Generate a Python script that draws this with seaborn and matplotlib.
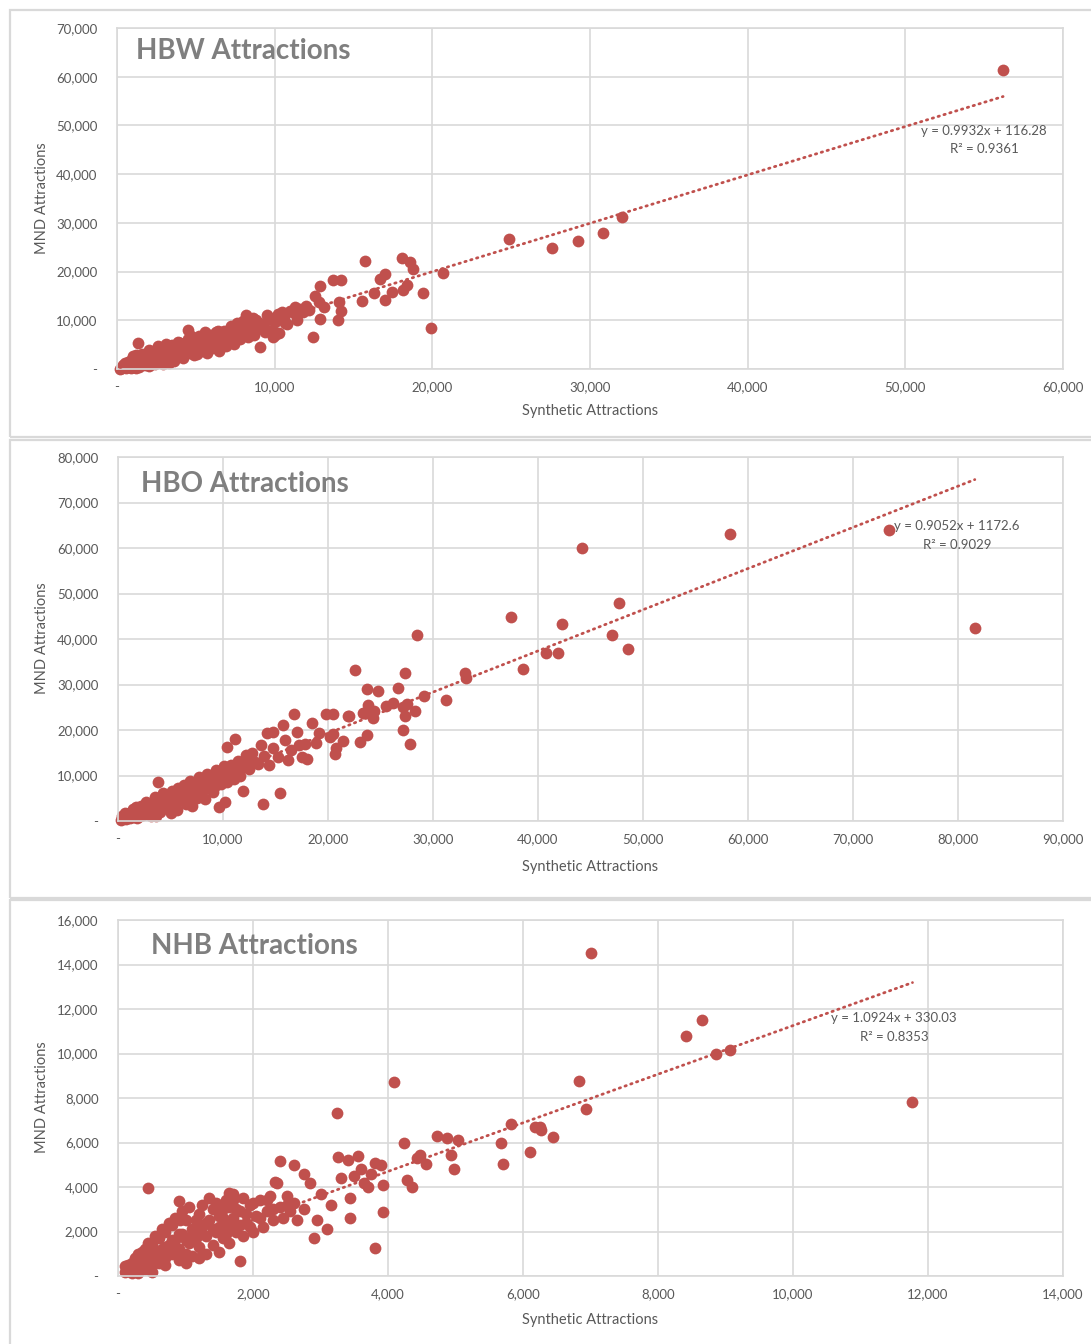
import numpy as np
import pandas as pd
import matplotlib
matplotlib.use("Agg")
import matplotlib.pyplot as plt
from matplotlib.patches import Rectangle
from matplotlib.ticker import FuncFormatter, MultipleLocator
import seaborn as sns

# ---------------- DATA (values in thousands) ----------------
hbw_x_k = [0.2, 0.3, 0.4, 0.5, 0.5, 0.6, 0.7, 0.8, 0.9, 1.0, 1.0, 1.0, 1.1, 1.2, 1.2, 1.3, 1.35, 1.4, 1.5, 1.6,
           1.6, 1.7, 1.8, 1.9, 2.0, 2.0, 2.1, 2.2, 2.3, 2.4, 2.4, 2.5, 2.6, 2.7, 2.8, 2.9, 2.9, 3.0, 3.1, 3.2,
           3.3, 3.3, 3.4, 3.5, 3.6, 3.7, 3.8, 3.9, 4.0, 4.1, 4.2, 4.3, 4.4, 4.5, 4.5, 4.6, 4.7, 4.8, 4.9, 5.0,
           5.1, 5.2, 5.3, 5.4, 5.5, 5.6, 5.7, 5.8, 5.9, 6.0, 6.1, 6.2, 6.3, 6.4, 6.5, 6.6, 6.7, 6.8, 6.9, 7.0,
           7.1, 7.2, 7.3, 7.4, 7.5, 7.6, 7.7, 7.8, 7.9, 8.0, 8.1, 8.2, 8.3, 8.4, 8.5, 8.6, 8.7, 8.8, 8.9, 9.1,
           9.2, 9.4, 9.6, 9.8, 9.9, 10.0, 10.2, 10.3, 10.45, 10.6, 10.65, 10.8, 11.0, 11.2, 11.3, 11.4, 11.6, 11.8, 12.0, 12.2,
           12.4, 12.55, 12.8, 12.9, 12.9, 13.1, 13.7, 14.0, 14.1, 14.2, 14.2, 15.55, 15.7, 16.3, 16.7, 17.0, 17.0, 17.45, 18.1, 18.15,
           18.4, 18.6, 18.75, 19.4, 19.9, 20.65, 24.88, 27.6, 29.25, 30.8, 32.0, 56.2,
           0.3, 0.6, 0.8, 1.1, 1.4, 1.7, 1.9, 2.2, 2.5, 2.8, 3.0, 3.2, 3.4, 3.6, 3.9, 4.0, 4.2, 4.5, 4.7, 4.9,
           5.1, 5.3, 5.5, 5.6, 5.8, 6.0, 6.2, 6.4, 6.6, 6.8, 7.0, 7.2, 7.4, 7.6, 7.8, 8.0, 8.2, 8.6, 9.0, 9.3,
           9.5, 10.0, 10.1, 1.2, 2.0, 2.6, 3.1]
hbw_y_k = [0.1, 0.2, 0.9, 0.6, 1.2, 0.3, 1.5, 0.9, 0.2, 0.5, 1.3, 2.6, 2.2, 0.8, 0.2, 1.6, 5.3, 0.4, 1.1, 2.0,
           3.0, 1.4, 0.9, 2.4, 1.7, 0.7, 2.9, 1.2, 2.2, 3.3, 1.0, 1.8, 2.7, 3.8, 1.5, 2.4, 1.1, 3.2, 4.3, 2.0,
           2.9, 1.3, 3.7, 4.9, 1.6, 2.6, 3.4, 4.2, 5.4, 3.0, 2.3, 3.9, 4.8, 6.2, 8.0, 3.3, 4.4, 5.3, 2.8, 4.0,
           5.8, 6.7, 3.6, 4.7, 5.5, 6.3, 3.2, 5.0, 7.0, 4.3, 5.9, 6.6, 7.6, 5.2, 3.6, 6.2, 7.2, 5.6, 4.7, 6.8,
           8.1, 6.0, 7.4, 5.1, 8.6, 6.7, 7.9, 6.1, 9.0, 7.2, 8.3, 11.1, 6.5, 7.8, 9.4, 8.7, 7.0, 10.0, 8.2, 4.6,
           9.2, 7.5, 10.2, 8.0, 6.6, 9.6, 11.2, 7.4, 11.8, 10.4, 9.4, 9.3, 12.0, 11.4, 12.8, 10.0, 12.4, 11.6, 12.9, 12.1,
           6.6, 15.0, 13.8, 17.0, 10.3, 12.7, 18.3, 10.1, 13.8, 18.3, 11.9, 14.0, 22.2, 15.7, 18.4, 19.4, 14.2, 15.9, 22.7, 16.2,
           17.2, 22.0, 20.5, 15.5, 8.5, 19.8, 26.7, 24.8, 26.3, 28.0, 31.1, 61.4,
           0.5, 0.9, 1.7, 0.9, 2.0, 2.5, 1.1, 3.5, 2.2, 3.2, 1.8, 4.0, 2.3, 4.4, 5.5, 3.4, 5.2, 3.7, 6.8, 4.9,
           3.0, 6.0, 4.0, 7.5, 5.7, 6.8, 5.0, 7.8, 4.8, 7.9, 5.8, 8.8, 6.6, 9.4, 7.7, 9.9, 7.5, 10.5, 9.5, 8.6,
           11.0, 7.0, 10.6, 2.8, 4.0, 4.7, 5.2]

hbo_x_k = [0.3, 0.5, 0.6, 0.8, 1.0, 1.1, 1.2, 1.4, 1.5, 1.6, 1.8, 2.0, 2.1, 2.2, 2.4, 2.5, 2.6, 2.8, 3.0, 3.1,
           3.2, 3.4, 3.6, 3.8, 3.8, 4.0, 4.2, 4.4, 4.6, 4.8, 5.0, 5.2, 5.4, 5.6, 5.6, 5.8, 6.0, 6.2, 6.4, 6.6,
           6.8, 7.0, 7.0, 7.2, 7.4, 7.6, 7.8, 8.0, 8.2, 8.4, 8.6, 8.8, 9.0, 9.2, 9.4, 9.6, 9.6, 9.8, 10.0, 10.2,
           10.2, 10.4, 10.4, 10.6, 10.8, 11.0, 11.1, 11.2, 11.4, 11.6, 11.9, 12.0, 12.2, 12.5, 12.8, 13.0, 13.3, 13.6, 13.8, 13.9,
           14.2, 14.4, 14.8, 14.8, 15.2, 15.4, 15.7, 15.9, 16.2, 16.5, 16.8, 17.0, 17.2, 17.5, 17.8, 18.0, 18.5, 18.9, 19.1, 19.8,
           20.2, 20.5, 20.5, 20.7, 20.8, 21.4, 21.9, 22.0, 22.6, 23.0, 23.3, 23.4, 23.7, 23.7, 23.8, 24.0, 24.3, 24.4, 24.8, 25.5,
           26.2, 26.7, 27.1, 27.1, 27.3, 27.3, 27.5, 27.8, 28.3, 28.5, 29.1, 31.2, 33.0, 33.1, 37.4, 38.6, 40.8, 41.9, 42.3, 44.2,
           47.0, 47.7, 48.6, 58.3, 73.4, 81.6,
           0.4, 0.7, 1.3, 1.7, 2.3, 2.7, 3.3, 3.5, 4.1, 4.3, 4.7, 5.1, 5.3, 5.7, 6.1, 6.3, 6.7, 6.9, 7.3, 7.7,
           8.1, 8.5, 8.9, 9.3, 9.7, 10.1, 10.5, 10.9, 11.3, 11.7, 12.3, 5.0, 6.5, 8.3, 9.0, 7.5, 4.0]
hbo_y_k = [0.3, 0.7, 1.0, 0.4, 1.8, 0.6, 0.9, 2.6, 0.8, 1.5, 0.6, 2.2, 1.2, 3.2, 1.4, 2.0, 2.8, 3.8, 2.0, 1.0,
           3.4, 4.4, 1.2, 8.6, 2.6, 3.9, 5.0, 2.9, 4.4, 5.8, 3.5, 5.1, 6.3, 2.4, 4.3, 5.7, 7.0, 4.9, 6.4, 7.6,
           5.5, 3.2, 7.0, 8.3, 6.1, 7.6, 9.0, 6.6, 8.2, 9.6, 7.2, 8.8, 10.2, 7.6, 9.3, 3.1, 10.8, 8.2, 9.8, 4.2,
           11.3, 16.3, 8.6, 10.3, 12.2, 9.2, 18.0, 11.0, 13.1, 10.0, 6.7, 12.0, 14.4, 11.5, 15.0, 13.0, 12.5, 16.8, 3.7, 14.2,
           19.3, 12.3, 19.6, 16.0, 14.0, 6.2, 21.1, 17.9, 13.5, 15.5, 23.5, 19.5, 16.8, 14.0, 17.0, 13.7, 21.6, 17.2, 19.3, 23.5,
           18.5, 23.5, 19.2, 14.7, 16.0, 17.6, 23.1, 23.1, 33.1, 17.4, 23.8, 23.7, 19.0, 29.0, 25.5, 24.5, 22.6, 24.2, 28.6, 25.3,
           26.0, 29.3, 25.1, 20.1, 32.6, 23.1, 25.8, 17.0, 24.2, 40.9, 27.5, 26.6, 32.6, 31.4, 44.8, 33.3, 37.0, 37.0, 43.4, 59.9,
           40.9, 47.9, 37.7, 63.1, 64.0, 42.4,
           1.2, 1.8, 1.8, 3.0, 2.4, 4.2, 2.5, 5.3, 4.5, 6.2, 3.6, 6.6, 4.0, 7.2, 5.8, 8.0, 6.2, 8.7, 7.2, 9.6,
           7.7, 10.4, 9.4, 11.2, 9.3, 12.0, 11.3, 10.8, 12.6, 11.6, 13.2, 1.8, 3.8, 4.8, 6.4, 5.0, 2.0]

nhb_x_k = [0.1, 0.15, 0.2, 0.25, 0.3, 0.3, 0.35, 0.4, 0.4, 0.44, 0.45, 0.5, 0.5, 0.55, 0.6, 0.6, 0.65, 0.7, 0.7, 0.75,
           0.8, 0.8, 0.85, 0.9, 0.9, 0.9, 0.92, 0.95, 1.0, 1.0, 1.05, 1.1, 1.1, 1.15, 1.2, 1.2, 1.25, 1.3, 1.3, 1.35,
           1.4, 1.4, 1.45, 1.5, 1.5, 1.5, 1.55, 1.55, 1.6, 1.6, 1.64, 1.65, 1.7, 1.7, 1.7, 1.75, 1.8, 1.8, 1.85, 1.9,
           1.95, 2.0, 2.05, 2.1, 2.15, 2.2, 2.25, 2.3, 2.32, 2.35, 2.4, 2.4, 2.45, 2.5, 2.55, 2.6, 2.6, 2.65, 2.75, 2.75,
           2.85, 2.9, 2.95, 3.0, 3.1, 3.15, 3.25, 3.26, 3.3, 3.4, 3.43, 3.43, 3.5, 3.55, 3.6, 3.65, 3.7, 3.75, 3.8, 3.81,
           3.9, 3.92, 3.92, 4.09, 4.23, 4.28, 4.35, 4.43, 4.47, 4.56, 4.72, 4.87, 4.93, 4.98, 5.04, 5.67, 5.71, 5.82, 6.11, 6.18,
           6.25, 6.27, 6.44, 6.83, 6.93, 7.0, 8.42, 8.65, 8.86, 9.06, 11.77,
           0.2, 0.25, 0.35, 0.4, 0.45, 0.5, 0.55, 0.6, 0.65, 0.7, 0.75, 0.8, 0.85, 0.9, 0.95, 1.0, 1.05, 1.1, 1.15, 1.2,
           1.25, 1.3, 1.35, 1.4, 1.45, 1.5, 1.55, 1.6, 1.65, 1.7, 1.75, 1.8, 1.85, 1.9, 1.95, 2.0, 2.1, 2.2, 2.3, 2.5,
           0.3, 0.5, 0.7, 1.0, 1.2, 0.15, 0.1, 0.2]
nhb_y_k = [0.2, 0.5, 0.3, 0.8, 0.4, 1.0, 0.6, 1.2, 0.3, 3.97, 0.8, 1.4, 0.5, 1.0, 1.7, 0.6, 1.2, 2.0, 0.8, 1.4,
           1.0, 2.3, 1.6, 0.7, 1.2, 3.38, 2.52, 1.9, 1.0, 2.5, 1.5, 2.1, 0.9, 1.7, 2.8, 1.3, 2.2, 1.0, 1.8, 2.5,
           1.4, 3.0, 2.0, 1.1, 2.7, 3.1, 1.7, 3.0, 2.3, 3.4, 3.74, 1.5, 2.6, 3.7, 3.4, 2.0, 0.67, 2.9, 1.8, 2.4,
           3.2, 2.0, 2.7, 3.4, 2.2, 2.9, 3.6, 2.5, 4.24, 4.2, 5.15, 3.1, 2.6, 3.6, 2.9, 4.99, 3.3, 2.5, 4.6, 3.0,
           4.17, 1.72, 2.5, 3.7, 2.1, 3.2, 7.34, 5.36, 4.4, 5.2, 3.5, 2.6, 4.5, 5.4, 4.8, 4.2, 4.0, 4.6, 5.1, 1.24,
           5.0, 4.09, 2.89, 8.73, 5.99, 4.31, 4.01, 5.29, 5.44, 5.03, 6.29, 6.19, 5.44, 4.82, 6.11, 5.96, 5.03, 6.82, 5.59, 6.71,
           6.68, 6.56, 6.26, 8.78, 7.5, 14.5, 10.8, 11.5, 9.98, 10.14, 7.83,
           0.6, 0.3, 1.1, 0.7, 1.5, 0.9, 1.8, 1.1, 2.1, 1.3, 2.4, 1.6, 2.6, 1.9, 2.9, 1.6, 3.1, 1.8, 2.5, 2.0,
           3.2, 2.4, 3.5, 2.1, 3.3, 2.2, 2.6, 1.9, 3.1, 2.2, 3.0, 2.3, 3.5, 2.8, 2.2, 3.3, 2.6, 3.4, 3.0, 3.2,
           0.15, 0.2, 0.5, 0.6, 0.8, 0.25, 0.45, 0.15]

titles = ["HBW Attractions", "HBO Attractions", "NHB Attractions"]
slopes = [0.9932, 0.9052, 1.0924]
intercepts = [116.28, 1172.6, 330.03]
equations = ["y = 0.9932x + 116.28", "y = 0.9052x + 1172.6", "y = 1.0924x + 330.03"]
r2_labels = ["R² = 0.9361", "R² = 0.9029", "R² = 0.8353"]
x_maxes = [60000, 90000, 14000]
y_maxes = [70000, 80000, 16000]
x_steps = [10000, 10000, 2000]
y_steps = [10000, 10000, 2000]
x_label = "Synthetic Attractions"
y_label = "MND Attractions"

datasets = [
    (np.array(hbw_x_k) * 1000, np.array(hbw_y_k) * 1000),
    (np.array(hbo_x_k) * 1000, np.array(hbo_y_k) * 1000),
    (np.array(nhb_x_k) * 1000, np.array(nhb_y_k) * 1000),
]

# ---------------- STYLE / LAYOUT ----------------
sns.set_theme(style="white")
plt.rcParams["font.family"] = ["Lato", "DejaVu Sans"]

W, H = 1091, 1344
fig = plt.figure(figsize=(W / 100, H / 100), dpi=100)
fig.patch.set_facecolor("white")

RED = "#C0504D"
GRID = "#D9D9D9"
TXT = "#595959"
TITLE = "#7F7F7F"

# pixel boxes: (left, top, right, bottom) of the plotting area
plot_boxes = [(117, 28, 1063, 369), (118, 457, 1063, 821), (118, 920, 1063, 1276)]
frames = [(10, 10, 1100, 437), (10, 440, 1100, 898), (10, 900, 1100, 1360)]
title_pos = [(136, 51), (141, 484), (151, 946)]
xlabel_y = [411, 867, 1320]
ylabel_y = [198, 638, 1097]
eq_pos = [(984, 131, 149), (957, 526, 545), (894, 1018, 1037)]


def fx(px):
    return px / W


def fy(py):
    return 1 - py / H


for (l, t, r, b) in frames:
    fig.add_artist(Rectangle((fx(l), fy(b)), (r - l) / W, (b - t) / H, transform=fig.transFigure,
                             fill=False, edgecolor=GRID, linewidth=1.6, zorder=0))

fmt = FuncFormatter(lambda v, p: "-" if abs(v) < 1e-9 else f"{int(round(v)):,}")

for i in range(3):
    l, t, r, b = plot_boxes[i]
    ax = fig.add_axes([fx(l), fy(b), (r - l) / W, (b - t) / H])
    x, y = datasets[i]
    df = pd.DataFrame({"x": x, "y": y})
    sns.scatterplot(data=df, x="x", y="y", ax=ax, color=RED, s=72, linewidth=0, alpha=1.0,
                    zorder=2, clip_on=False)

    xs = np.array([df["x"].min(), df["x"].max()])
    line_df = pd.DataFrame({"x": xs, "y": slopes[i] * xs + intercepts[i]})
    sns.lineplot(data=line_df, x="x", y="y", ax=ax, color=RED, linewidth=2.0,
                 linestyle=(0, (0.5, 1.7)), zorder=3)
    ax.lines[-1].set_dash_capstyle("round")

    ax.set_xlim(0, x_maxes[i])
    ax.set_ylim(0, y_maxes[i])
    ax.xaxis.set_major_locator(MultipleLocator(x_steps[i]))
    ax.yaxis.set_major_locator(MultipleLocator(y_steps[i]))
    ax.xaxis.set_major_formatter(fmt)
    ax.yaxis.set_major_formatter(fmt)
    ax.grid(True, color=GRID, linewidth=1.2)
    ax.set_axisbelow(True)
    for s in ax.spines.values():
        s.set_color(GRID)
        s.set_linewidth(1.2)
    ax.tick_params(axis="both", length=0, labelsize=9.5, labelcolor=TXT)
    ax.tick_params(axis="x", pad=9)
    ax.tick_params(axis="y", pad=14)
    ax.set_xlabel("")
    ax.set_ylabel("")

    fig.text(fx(title_pos[i][0]), fy(title_pos[i][1]), titles[i], fontsize=20, color=TITLE,
             fontweight="bold", ha="left", va="center")
    fig.text(fx(590), fy(xlabel_y[i]), x_label, fontsize=10.5, color=TXT, ha="center", va="center")
    fig.text(fx(42), fy(ylabel_y[i]), y_label, fontsize=10.5, color=TXT, ha="center", va="center",
             rotation=90)
    ex, ey1, ey2 = eq_pos[i]
    fig.text(fx(ex), fy(ey1), equations[i], fontsize=9.5, color=TXT, ha="center", va="center")
    fig.text(fx(ex), fy(ey2), r2_labels[i], fontsize=9.5, color=TXT, ha="center", va="center")

fig.savefig("out.png", dpi=100, facecolor="white")
